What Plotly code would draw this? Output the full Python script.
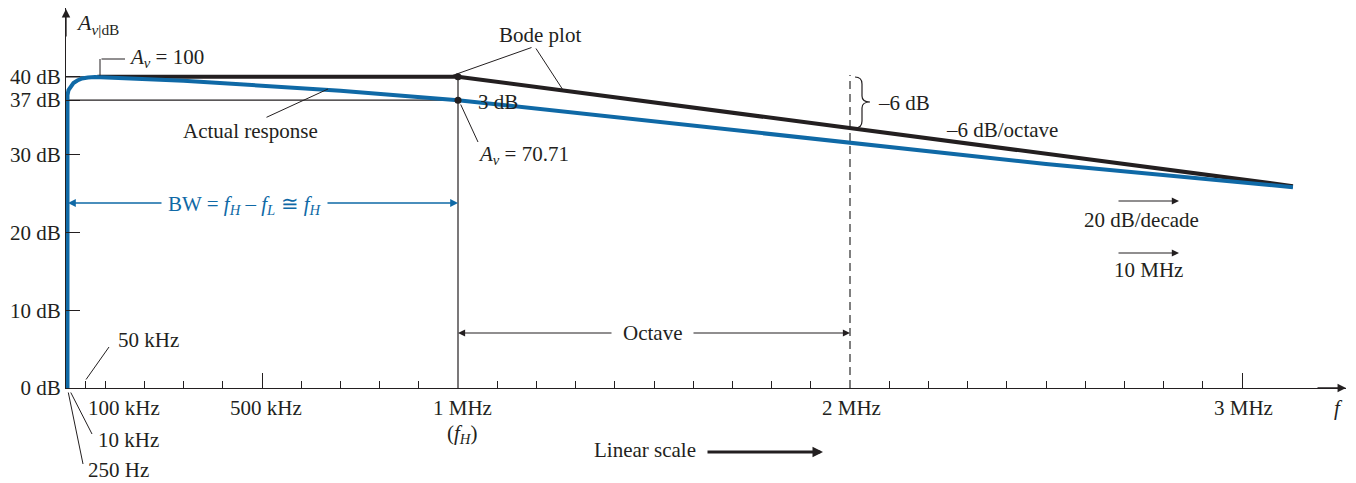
import plotly.graph_objects as go

# ---------------- data (frequency in MHz, gain in dB) ----------------
ACTUAL_F = [0.0038, 0.0038, 0.0064, 0.0115, 0.019, 0.029, 0.041, 0.056, 0.074,
            0.3, 0.5, 0.7, 1.0, 1.44, 2.0, 2.5, 3.13]
ACTUAL_DB = [0.0, 37.66, 38.3, 38.75, 39.2, 39.52, 39.78, 39.9, 39.97,
             39.5, 38.9, 38.2, 37.0, 34.6, 31.6, 28.8, 25.8]

BODE_F = [0.08, 1.0, 3.13]
BODE_DB = [40.0, 40.0, 25.95]

POINT_F = [1.0, 1.0]
POINT_DB = [40.0, 37.0]

Y_TICKS = [0, 10, 20, 30, 37, 40]
Y_TICKTEXT = ["0 dB", "10 dB", "20 dB", "30 dB", "37 dB", "40 dB"]

X_MAJOR_TICKS = [0.5, 3.0]
X_MINOR_TICKS = [0.05] + [round(0.1 * i, 2) for i in range(1, 30) if i not in (5, 10, 20)]

F_H = 1.0       # MHz
F_OCT = 2.0     # MHz

# ---------------- geometry (reference pixels; page has an 8px body margin) ----
OFF = 8
W, H = 1356, 483
X0_REF, SX = 66.0, 392.0      # ref px at 0 MHz, px per MHz
Y0_REF, SY = 388.0, 7.78      # ref px at 0 dB, px per dB
XEND_REF, YTOP_REF = 1346.0, 8.0

L = X0_REF - OFF
T = YTOP_REF - OFF
B = H - (Y0_REF - OFF)
R = W - (XEND_REF - OFF)
PW, PH = W - L - R, H - T - B
XMAX = PW / SX
YMAX = PH / SY


def fx(px):
    return (px - X0_REF) / SX


def fy(py):
    return (Y0_REF - py) / SY


def pxp(px):
    return (px - OFF - L) / PW


def pyp(py):
    return (H - B - (py - OFF)) / PH


INK = "#231f20"
BLUE = "#0f69a6"
FONT = "Liberation Serif"
FS = 21

fig = go.Figure()

fig.add_trace(go.Scatter(x=BODE_F, y=BODE_DB, mode="lines",
                         line=dict(color=INK, width=4), hoverinfo="skip",
                         showlegend=False))
fig.add_trace(go.Scatter(x=ACTUAL_F, y=ACTUAL_DB, mode="lines",
                         line=dict(color=BLUE, width=4), hoverinfo="skip",
                         showlegend=False))
fig.add_trace(go.Scatter(x=POINT_F, y=POINT_DB, mode="markers",
                         marker=dict(color=INK, size=7), hoverinfo="skip",
                         showlegend=False))

# reference lines
thin = dict(color=INK, width=1.2)
fig.add_shape(type="line", x0=0, x1=F_H, y0=40, y1=40, line=thin, layer="below")
fig.add_shape(type="line", x0=0, x1=F_H, y0=37, y1=37, line=thin, layer="below")
fig.add_shape(type="line", x0=F_H, x1=F_H, y0=0, y1=40, line=thin, layer="below")
fig.add_shape(type="line", x0=F_OCT, x1=F_OCT, y0=0, y1=fy(75),
              line=dict(color="#555555", width=1.5, dash="8px,5px"), layer="below")

# brace at 2 MHz
bx = [855, 862, 870]
path = (f"M {fx(bx[0])},{fy(77)} Q {fx(bx[1])},{fy(77)} {fx(bx[1])},{fy(84)} "
        f"L {fx(bx[1])},{fy(96)} Q {fx(bx[1])},{fy(102)} {fx(bx[2])},{fy(102)} "
        f"Q {fx(bx[1])},{fy(102)} {fx(bx[1])},{fy(108)} "
        f"L {fx(bx[1])},{fy(121)} Q {fx(bx[1])},{fy(128)} {fx(bx[0])},{fy(128)}")
fig.add_shape(type="path", path=path, line=dict(color=INK, width=1.2))


def seg(x1, y1, x2, y2, color=INK, width=1, head=0, size=1.0):
    """line from (x1,y1) to (x2,y2) in reference px; head drawn at (x2,y2)"""
    fig.add_annotation(x=pxp(x2), y=pyp(y2), ax=x1 - x2, ay=y1 - y2,
                       xref="paper", yref="paper", axref="pixel", ayref="pixel",
                       text="", showarrow=True, arrowhead=head,
                       arrowsize=size, arrowwidth=width, arrowcolor=color,
                       standoff=0, startstandoff=0)


def txt(s, px, py, anchor="left", color=INK, size=FS, vanchor="middle"):
    fig.add_annotation(x=pxp(px), y=pyp(py), xref="paper", yref="paper", text=s,
                       showarrow=False, xanchor=anchor, yanchor=vanchor,
                       font=dict(family=FONT, size=size, color=color))


# axis arrows
seg(XEND_REF - 30, Y0_REF, XEND_REF, Y0_REF, width=1.3, head=2, size=1.3)
seg(X0_REF, YTOP_REF + 30, X0_REF, YTOP_REF, width=1.3, head=2, size=1.3)

# leader lines
seg(100, 77, 100, 59)
seg(100, 59, 125, 59)
seg(265, 118, 328, 89)
seg(533, 47, 451, 76)
seg(535, 47, 563, 90)
seg(460, 103, 478, 142)
seg(85, 381, 109, 347)
seg(70, 391, 92, 434)
seg(68, 391, 83, 464)

# dimension arrows
seg(163, 203, 68, 203, color=BLUE, width=1.3, head=2, size=1.2)
seg(326, 203, 458, 203, color=BLUE, width=1.3, head=2, size=1.2)
seg(613, 333, 458, 333, width=1.1, head=2, size=1.3)
seg(692, 333, 850, 333, width=1.1, head=2, size=1.3)
seg(1117, 201, 1179, 201, width=1.2, head=2, size=1.2)
seg(1117, 253, 1179, 253, width=1.2, head=2, size=1.2)
seg(706, 452, 823, 452, width=3, head=2, size=0.7)

# texts
txt("<i>A</i><sub><i>v</i>|dB</sub>", 74, 8, size=22, vanchor="top")
txt("<i>A</i><sub><i>v</i></sub> = 100", 127, 58)
txt("Actual response", 250, 131, anchor="center")
txt("Bode plot", 540, 35, anchor="center")
txt("3 dB", 476, 102)
txt("<i>A</i><sub><i>v</i></sub> = 70.71", 476, 155)
txt("BW = <i>f</i><sub><i>H</i></sub> – <i>f</i><sub><i>L</i></sub> ≅ <i>f</i><sub><i>H</i></sub>",
    245, 205, anchor="center", color=BLUE)
txt("Octave", 652, 333, anchor="center")
txt("Linear scale", 645, 450, anchor="center")
txt("–6 dB", 876, 103)
txt("–6 dB/octave", 944, 130)
txt("20 dB/decade", 1082, 220)
txt("10 MHz", 1112, 270)
txt("50 kHz", 116, 340)
txt("100 kHz", 86, 408)
txt("500 kHz", 266, 408, anchor="center")
txt("1 MHz", 462, 408, anchor="center")
txt("(<i>f</i><sub><i>H</i></sub>)", 462, 434, anchor="center")
txt("2 MHz", 851, 408, anchor="center")
txt("3 MHz", 1243, 408, anchor="center")
txt("<i>f</i>", 1338, 408, anchor="center")
txt("10 kHz", 96, 440)
txt("250 Hz", 86, 470)

fig.update_layout(
    width=W, height=H,
    margin=dict(l=L, r=R, t=T, b=B, pad=0),
    paper_bgcolor="white", plot_bgcolor="white",
    showlegend=False,
    xaxis=dict(range=[0, XMAX], showgrid=False, zeroline=False,
               showline=True, linecolor=INK, linewidth=1.3,
               tickmode="array", tickvals=X_MAJOR_TICKS, ticks="inside",
               ticklen=15, tickwidth=1.1, tickcolor=INK, showticklabels=False,
               minor=dict(tickmode="array", tickvals=X_MINOR_TICKS,
                          ticks="inside", ticklen=7, tickwidth=1.1,
                          tickcolor=INK, showgrid=False),
               fixedrange=True),
    yaxis=dict(range=[0, YMAX], showgrid=False, zeroline=False,
               showline=True, linecolor=INK, linewidth=1.3,
               tickmode="array", tickvals=Y_TICKS, ticktext=Y_TICKTEXT,
               ticks="inside", ticklen=14, tickwidth=1.1, tickcolor=INK,
               tickfont=dict(family=FONT, size=FS, color=INK),
               fixedrange=True),
)

fig.write_html("out.html")
